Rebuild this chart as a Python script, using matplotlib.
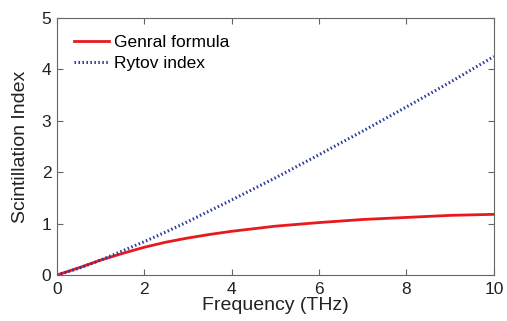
import matplotlib as mpl
mpl.use("Agg")
import matplotlib.pyplot as plt

# values
freq = [0, 0.5, 1, 1.5, 2, 2.5, 3, 3.5, 4, 5, 6, 7, 8, 9, 10]
general = [0, 0.14, 0.29, 0.42, 0.54, 0.64, 0.72, 0.79, 0.85, 0.95, 1.02, 1.08, 1.12, 1.16, 1.18]
rytov = [0, 0.13, 0.29, 0.47, 0.65, 0.84, 1.04, 1.25, 1.46, 1.89, 2.34, 2.80, 3.27, 3.75, 4.25]

plt.rcParams["font.family"] = ["Liberation Sans", "DejaVu Sans"]

fig = plt.figure(figsize=(5.07, 3.21), dpi=100)
ax = fig.add_axes([0.1124, 0.1433, 0.8616, 0.8007])
ax.plot(freq, general, color="#e8191c", lw=2, label="Genral formula")
ax.plot(freq, rytov, color="#2b3c9b", lw=2.2, ls=(0, (0.5, 0.8)), label="Rytov index")

ax.set_xlim(0, 10); ax.set_ylim(0, 5)
ax.set_xticks([0, 2, 4, 6, 8, 10]); ax.set_yticks([0, 1, 2, 3, 4, 5])
ax.tick_params(direction="in", top=True, right=True, labelsize=12.5, length=4,
               color="#666666", labelcolor="#222222")
ax.tick_params(axis="x", pad=5)
ax.tick_params(axis="y", pad=4)
for s in ax.spines.values():
    s.set_color("#666666"); s.set_linewidth(0.8)
ax.set_xlabel("Frequency (THz)", fontsize=14, color="#222222", labelpad=0)
ax.set_ylabel("Scintillation Index", fontsize=14, color="#222222", labelpad=9)
ax.legend(loc="upper left", frameon=False, fontsize=12.5, handlelength=2.0,
          handletextpad=0.3, labelspacing=0.3, borderaxespad=0.6)

fig.savefig("out.png", dpi=100)
